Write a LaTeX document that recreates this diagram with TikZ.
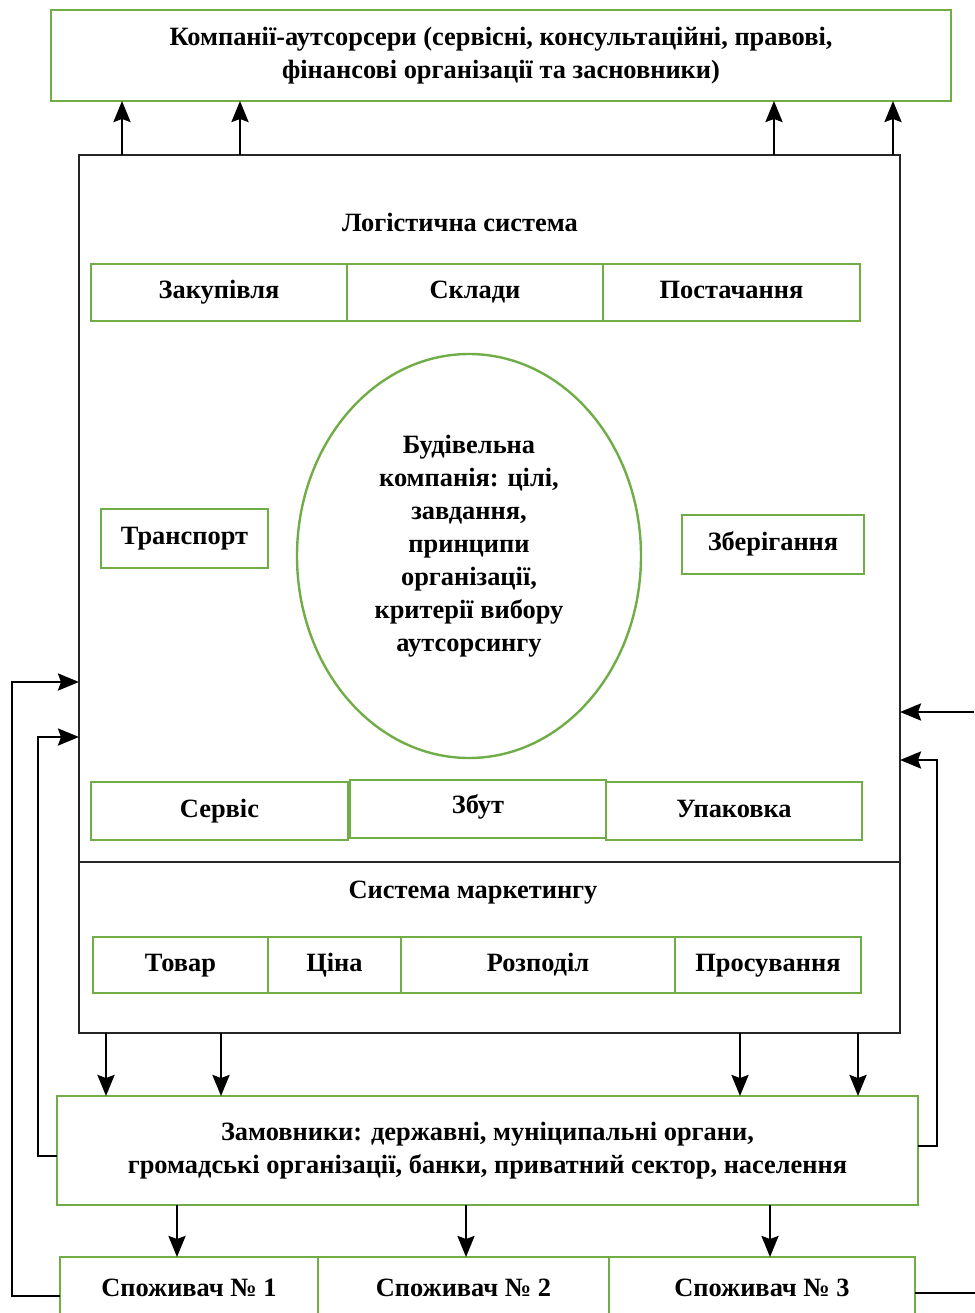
\documentclass[tikz,border=0pt]{standalone}
\usepackage{fontspec}
\setmainfont{Liberation Serif}
\usepackage{tikz}
\usetikzlibrary{shapes.geometric, arrows.meta, positioning}
\definecolor{leaf}{RGB}{112,173,71}
\tikzstyle{greenbox} = [rectangle, draw=leaf, line width=2.6pt, inner sep=0pt, outer sep=0pt, minimum height=57, text centered]
\tikzstyle{cell}     = [greenbox, text height=18pt, text depth=6pt]
\tikzstyle{cellbox}  = [cell, anchor=north west]
\tikzstyle{frame}    = [rectangle, draw=black!85, line width=1.3pt, inner sep=0pt, outer sep=0pt]
\tikzstyle{arrow}    = [line width=2.6pt, -{Stealth[length=21pt,width=17pt,inset=3pt]}]
\tikzstyle{link}     = [line width=2.6pt]
\tikzset{every node/.style={align=center, font=\fontsize{26.4}{33}\selectfont\bfseries}}

\begin{document}
\begin{tikzpicture}[x=1pt, y=-1pt]
    \useasboundingbox (0,0) rectangle (974,1313);

    % outsourcers
    \node (top) [greenbox, minimum width=900, minimum height=91] at (501,55.5)
        {Компанії-аутсорсери (сервісні, консультаційні, правові,\\фінансові організації та засновники)};

    % logistics + marketing frame
    \node (log) [frame, minimum width=821, minimum height=878] at (489.5,594) {};
    \draw [draw=black!85, line width=1.3pt] (log.west |- 0,862) -- (log.east |- 0,862);

    \node (logt) at (460,222) {Логістична система};
    \node (zak) [cellbox, minimum width=256] at (91,264) {Закупівля};
    \node (skl) [cell, minimum width=256, right=0pt of zak] {Склади};
    \node (pst) [cell, minimum width=257, right=0pt of skl] {Постачання};

    \node (core) [ellipse, draw=leaf, line width=2.4pt, minimum width=344, minimum height=404, inner sep=0pt,
        label={[yshift=10pt]center:{Будівельна\\компанія: цілі,\\завдання,\\принципи\\організації,\\критерії вибору\\аутсорсингу}}] at (469,556) {};
    \node (trn) [cellbox, minimum width=167, minimum height=59] at (101,509) {Транспорт};
    \node (zbr) [cellbox, minimum width=182, minimum height=59] at (682,515) {Зберігання};

    \node (srv) [cellbox, minimum width=257, minimum height=58] at (91,782) {Сервіс};
    \node (zbt) [cellbox, minimum width=256, minimum height=58, text depth=10pt] at (350,780) {Збут};
    \node (upk) [cellbox, minimum width=256, minimum height=58] at (606,782) {Упаковка};

    \node (mkt) at (473,893) {Система маркетингу};
    \node (tov) [cellbox, minimum width=175, minimum height=56] at (93,937) {Товар};
    \node (cin) [cell, minimum width=133, minimum height=56, right=0pt of tov] {Ціна};
    \node (roz) [cell, minimum width=274, minimum height=56, right=0pt of cin] {Розподіл};
    \node (pro) [cell, minimum width=186, minimum height=56, right=0pt of roz] {Просування};

    % customers and consumers
    \node (zam) [greenbox, minimum width=861, minimum height=109] at (487.5,1150.5)
        {Замовники: державні, муніципальні органи,\\громадські організації, банки, приватний сектор, населення};
    \node (sp1) [cellbox, minimum width=258, minimum height=64, text height=28pt, text depth=14pt] at (60,1257) {Споживач № 1};
    \node (sp2) [cell, minimum width=291, minimum height=64, text height=28pt, text depth=14pt, right=0pt of sp1] {Споживач № 2};
    \node (sp3) [cell, minimum width=306, minimum height=64, text height=28pt, text depth=14pt, right=0pt of sp2] {Споживач № 3};

    \foreach \x in {122,240,774,893}
        \draw [arrow] (\x,0 |- log.north) -- (\x,0 |- top.south);
    \foreach \x in {106,221,740,858}
        \draw [arrow] (\x,0 |- log.south) -- (\x,0 |- zam.north);
    \foreach \x in {177,466,770}
        \draw [arrow] (\x,0 |- zam.south) -- (\x,0 |- sp1.north);

    % feedback lines
    \draw [arrow] ([yshift=-7pt]sp1.west) -- ++(-48,0) |- ([yshift=-88pt]log.west);
    \draw [arrow] ([yshift=-5.5pt]zam.west) -- ++(-19,0) |- ([yshift=-143pt]log.west);
    \coordinate (edge) at (974,712);
    \draw [arrow] (edge) -- (edge -| log.east);
    \draw [arrow] ([yshift=4.5pt]zam.east) -- ++(19,0) |- ([yshift=-166pt]log.east);
    \draw [link] ([yshift=-4pt]sp3.east) -- ++(60,0);
\end{tikzpicture}
\end{document}
